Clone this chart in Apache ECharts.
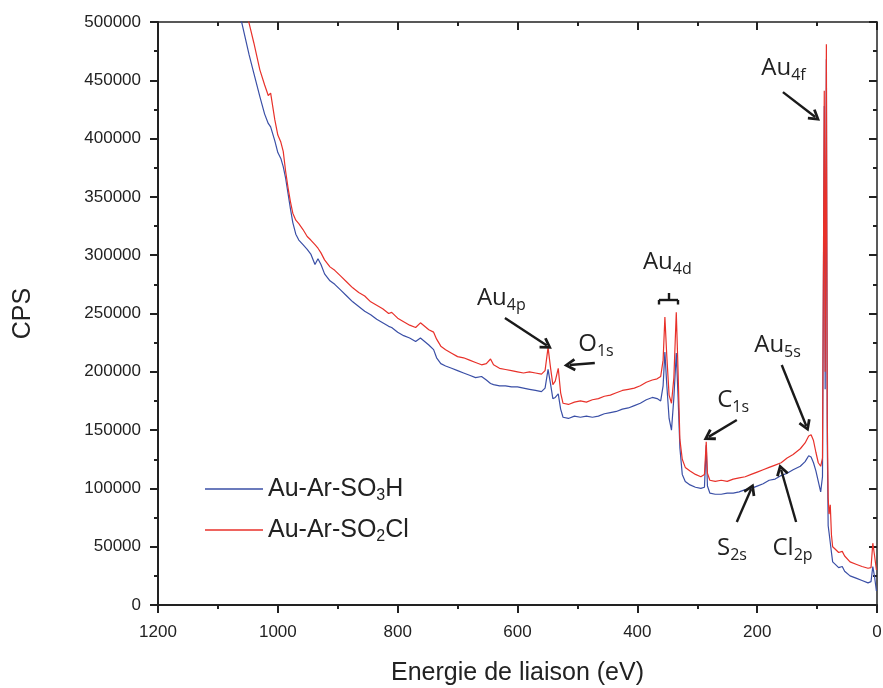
<!DOCTYPE html>
<html>
<head>
<meta charset="utf-8">
<script src="https://cdn.jsdelivr.net/npm/echarts@6/dist/echarts.min.js"></script>
<style>html,body{margin:0;padding:0;background:#fff}#c{width:883px;height:688px}</style>
</head>
<body>
<div id="c"></div>
<script>
// Binding energy (eV), descending
const energies = [1100,1075,1060,1048,1040,1030,1022,1016,1012,1005,1000,995,991,987,983,979,975,970,965,958,951,945,938,933,928,922,913,905,895,885,875,865,855,845,835,825,815,810,800,790,780,770,762,755,748,740,735,728,720,710,700,690,680,670,660,652,645,640,630,620,610,600,590,580,570,560,554,549,545,541,537,532,528,524,515,505,495,485,475,465,455,445,435,425,415,405,395,385,375,367,361,357,354,351,347,343,339,335,332,329,325,320,312,303,294,288,285,283,279,270,260,250,240,230,220,210,200,190,180,170,160,150,140,128,120,114,110,106,102,98,94,91,88,86.5,84.5,83,81.5,80,78,76,74,70,64,58,54,45,35,25,15,10,7,4,1];
// Au-Ar-SO2Cl (red), CPS
const redCps = [610000,545000,518000,499000,482000,459000,446000,437000,439000,416000,403000,397000,389000,372000,358000,346000,336000,330000,327000,322000,316000,313000,309000,306000,302000,296000,290000,287000,282000,277000,272000,268000,265000,260000,257000,254000,250000,251000,246000,243000,240000,238000,242000,239000,236000,234000,228000,222000,219000,216000,213000,212000,210000,208000,206000,207000,211000,206000,203000,202000,201000,200000,199000,200000,199000,198000,201000,221000,204000,189000,192000,203000,182000,173000,172000,174000,175000,174000,176000,177000,179000,180000,182000,184000,185000,186000,188000,191000,193000,194000,196000,210000,247000,215000,180000,173000,195000,251000,200000,142000,125000,118000,115000,112000,110000,112000,140000,113000,107000,106000,107000,106000,108000,109000,110000,112000,114000,116000,118000,120000,122000,126000,129000,134000,139000,145000,146000,141000,131000,122000,119000,126000,441000,200000,481000,160000,92000,78000,86000,60000,50000,48000,45000,46000,42000,37000,35000,33000,31500,32000,53000,42000,30000];
// Au-Ar-SO3H (blue), CPS
const blueCps = [575000,520000,499000,472000,456000,436000,421000,413000,410000,398000,388000,383000,376000,366000,353000,340000,328000,318000,313000,309000,305000,301000,292000,297000,292000,284000,278000,275000,270000,265000,260000,256000,252000,249000,245000,242000,239000,238000,234000,231000,229000,226000,229000,226000,223000,219000,212000,207000,205000,203000,201000,199000,197000,195000,196000,193000,190000,189000,188000,188000,187000,187000,186000,185000,184000,183000,186000,202000,190000,177000,178000,181000,168000,161000,160000,162000,161000,162000,161000,162000,164000,165000,166000,168000,169000,171000,173000,176000,178000,177000,175000,188000,217000,190000,160000,150000,178000,216000,178000,135000,112000,106000,103000,101000,100000,101000,137000,102000,96000,95000,95000,96000,96000,97000,99000,100000,102000,104000,107000,108000,111000,113000,116000,119000,123000,128000,127000,122000,115000,106000,97000,110000,428000,185000,468000,140000,68000,62000,63000,45000,37000,35000,32000,33000,29000,25000,23000,21000,19000,20000,33000,24000,12000];

const seriesNames = ['Au-Ar-SO3H', 'Au-Ar-SO2Cl'];
const legendLabels = {'Au-Ar-SO3H': 'Au-Ar-SO{s|3}H', 'Au-Ar-SO2Cl': 'Au-Ar-SO{s|2}Cl'};

const xTicks = {min: 0, max: 1200, interval: 200};
const yTicks = {min: 0, max: 500000, interval: 50000};

// annotation labels: [main, sub, eV, cps]
const peakLabels = [
  ['Au', '4f', 156, 460500],
  ['Au', '4d', 350, 294200],
  ['Au', '4p', 627, 263300],
  ['O', '1s', 469, 223800],
  ['C', '1s', 240, 175800],
  ['Au', '5s', 166, 223000],
  ['S', '2s', 242, 48900],
  ['Cl', '2p', 141, 48900]
];
// arrows: [fromEV, fromCps, toEV, toCps]
const arrows = [
  [157, 439900, 103, 418500],
  [621, 246100, 551, 222500],
  [471, 207500, 513, 205800],
  [234, 158700, 281, 144200],
  [159, 205800, 118, 153500],
  [234, 71200, 210, 99500],
  [135, 71200, 160, 116000]
];
// Au4d bracket segments
const bracket = [
  [364, 261600, 332, 261600],
  [364, 261600, 364, 257700],
  [332, 261600, 332, 257700],
  [347, 261600, 347, 267600]
];

const chevron = 'path://M5,0 L10,8.2 L8.2,9.4 L5,4 L1.8,9.4 L0,8.2 Z';

const chart = echarts.init(document.getElementById('c'), null, {renderer: 'canvas'});
const toPairs = vals => energies.map((e, i) => [e, vals[i]]);

const mainFont = 'Liberation Sans, Arial, sans-serif';
const annoFont = 'Open Sans, Liberation Sans, sans-serif';

const markPointData = peakLabels.map(([m, s, x, y]) => ({
  coord: [x, y], symbol: 'circle', symbolSize: 0,
  label: {show: true, position: 'inside', formatter: m + '{s|' + s + '}'}
}));
const markLineData = arrows.map(([x1, y1, x2, y2]) => [
  {coord: [x1, y1], symbol: 'none'},
  {coord: [x2, y2], symbol: chevron, symbolSize: [13, 12]}
]).concat(bracket.map(([x1, y1, x2, y2]) => [
  {coord: [x1, y1], symbol: 'none'},
  {coord: [x2, y2], symbol: 'none'}
]));

const plain = v => String(v);

const option = {
  animation: false,
  grid: {left: 158, right: 6, top: 22, bottom: 83, containLabel: false, outerBoundsMode: 'none'},
  legend: {
    orient: 'vertical', left: 200, top: 469, itemGap: 11,
    itemWidth: 58, itemHeight: 1.5, icon: 'rect',
    data: seriesNames,
    formatter: n => legendLabels[n],
    textStyle: {
      fontFamily: mainFont, fontSize: 25, color: '#222', lineHeight: 30,
      rich: {s: {fontFamily: mainFont, fontSize: 16, color: '#222', lineHeight: 16, padding: [14, 0, 0, 0]}}
    }
  },
  xAxis: [{
    type: 'value', position: 'bottom', inverse: true,
    min: xTicks.min, max: xTicks.max, interval: xTicks.interval,
    name: 'Energie de liaison (eV)', nameLocation: 'middle', nameGap: 56,
    nameTextStyle: {fontFamily: mainFont, fontSize: 25, color: '#222'},
    axisLine: {show: true, lineStyle: {color: '#222', width: 2}},
    axisTick: {show: true, inside: false, length: 8, lineStyle: {color: '#222', width: 2}},
    minorTick: {show: true, splitNumber: 2, length: 4, lineStyle: {color: '#222', width: 2}},
    axisLabel: {fontFamily: mainFont, fontSize: 17, color: '#222', margin: 19, formatter: plain},
    splitLine: {show: false}
  }, {
    type: 'value', position: 'top', inverse: true,
    min: xTicks.min, max: xTicks.max, interval: xTicks.interval,
    axisLine: {show: true, onZero: false, lineStyle: {color: '#222', width: 1.5}},
    axisTick: {show: true, inside: true, length: 8, lineStyle: {color: '#222', width: 2}},
    minorTick: {show: true, splitNumber: 2, length: 4, lineStyle: {color: '#222', width: 2}},
    axisLabel: {show: false}, splitLine: {show: false}
  }],
  yAxis: [{
    type: 'value', position: 'left',
    min: yTicks.min, max: yTicks.max, interval: yTicks.interval,
    name: 'CPS', nameLocation: 'middle', nameGap: 122, nameRotate: 90,
    nameTextStyle: {fontFamily: mainFont, fontSize: 25, color: '#222'},
    axisLine: {show: true, onZero: false, lineStyle: {color: '#222', width: 2}},
    axisTick: {show: true, inside: false, length: 8, lineStyle: {color: '#222', width: 2}},
    minorTick: {show: true, splitNumber: 2, length: 4, lineStyle: {color: '#222', width: 2}},
    axisLabel: {fontFamily: mainFont, fontSize: 17, color: '#222', margin: 17, formatter: plain},
    splitLine: {show: false}
  }, {
    type: 'value', position: 'right',
    min: yTicks.min, max: yTicks.max, interval: yTicks.interval,
    axisLine: {show: true, onZero: false, lineStyle: {color: '#222', width: 1.5}},
    axisTick: {show: true, inside: true, length: 8, lineStyle: {color: '#222', width: 2}},
    minorTick: {show: true, splitNumber: 2, length: 4, lineStyle: {color: '#222', width: 2}},
    axisLabel: {show: false}, splitLine: {show: false}
  }],
  series: [{
    name: seriesNames[0], type: 'line', data: toPairs(blueCps),
    xAxisIndex: 0, yAxisIndex: 0, showSymbol: false, symbol: 'none', clip: true,
    color: '#3a4fa6', lineStyle: {color: '#3a4fa6', width: 1.2}
  }, {
    name: seriesNames[1], type: 'line', data: toPairs(redCps),
    xAxisIndex: 0, yAxisIndex: 0, showSymbol: false, symbol: 'none', clip: true,
    color: '#e8312a', lineStyle: {color: '#e8312a', width: 1.2},
    markPoint: {
      silent: true, animation: false,
      label: {
        color: '#222', fontFamily: annoFont, fontSize: 24, lineHeight: 30,
        rich: {s: {fontFamily: annoFont, fontSize: 16, color: '#222', lineHeight: 16, padding: [14, 0, 0, 0]}}
      },
      data: markPointData
    },
    markLine: {
      silent: true, animation: false,
      lineStyle: {color: '#1a1a1a', width: 2.4, type: 'solid'},
      label: {show: false},
      emphasis: {disabled: true},
      data: markLineData
    }
  }]
};
chart.setOption(option);
</script>
</body>
</html>
